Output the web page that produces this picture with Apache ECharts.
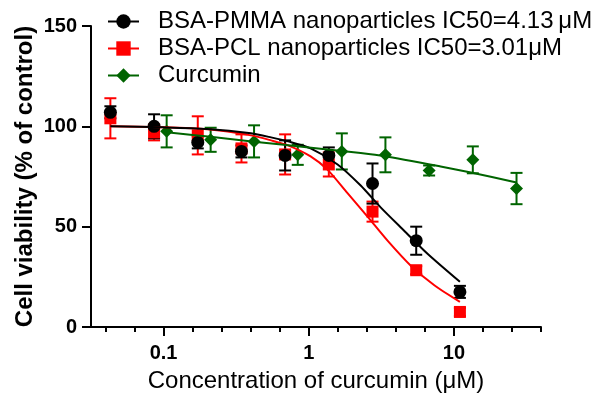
<!DOCTYPE html>
<html>
<head>
<meta charset="utf-8">
<script src="https://cdn.jsdelivr.net/npm/echarts@6/dist/echarts.min.js"></script>
<style>
  html, body { margin: 0; padding: 0; background: #fff; }
  #chart { width: 607px; height: 398px; }
</style>
</head>
<body>
<div id="chart"></div>
<script>
// doses (uM) and viability (% of control)
var nanoConc = [0.043, 0.086, 0.172, 0.344, 0.6875, 1.375, 2.75, 5.5, 11];
var pmmaMean = [107, 100, 92, 87.5, 85.5, 85.5, 71.5, 43, 17.5];
var pmmaSd = [3, 6, 3, 3, 7.5, 4, 10, 7, 3];
var pclMean = [104, 97, 95.5, 89, 86, 81, 57.5, 28.3, 7.5];
var pclSd = [10, 4, 9.5, 7, 10, 6, 5, 2, 2];

var curcConc = [0.105, 0.211, 0.42, 0.84, 1.69, 3.375, 6.75, 13.5, 27];
var curcMean = [97.5, 93.3, 92.5, 85.8, 87.5, 85.8, 78, 83.3, 69];
var curcSd = [8, 6, 8, 5, 9, 8.7, 2.5, 6.7, 7.8];

// fitted curves
var pmmaFitConc = [0.043, 0.1, 0.2, 0.4, 0.55, 0.72, 1.03, 1.58, 2.28, 3.14, 4.54, 6.58, 11];
var pmmaFitVal = [100, 99.5, 98.7, 96.5, 94.5, 92.5, 89, 81, 70.5, 59.5, 48, 36.5, 22.5];
var pclFitConc = [0.043, 0.1, 0.2, 0.4, 0.55, 0.72, 1.03, 1.35, 1.85, 2.54, 3.49, 5.05, 7.33, 11];
var pclFitVal = [100, 99.5, 98.5, 95.5, 93, 90.5, 85, 78.3, 66.7, 55, 43, 30.5, 20.8, 12.5];
var curcFitConc = [0.105, 0.21, 0.42, 1, 2.28, 3.3, 8.1, 13.1, 27];
var curcFitVal = [97, 94.8, 92.3, 89.5, 86.7, 85.2, 80, 77, 72];

var seriesNames = ['BSA-PMMA nanoparticles IC50=4.13\u2009\u03bcM', 'BSA-PCL nanoparticles IC50=3.01\u03bcM', 'Curcumin'];

var majorTicks = [0.1, 1, 10];
var minorTickExp = [-1.4, -1.2, -1.0, -0.8, -0.6, -0.4, -0.2, 0, 0.2, 0.4, 0.6, 0.8, 1.0, 1.2, 1.4, 1.6];
var yTicks = [0, 50, 100, 150];

var FONT = 'Liberation Sans, Arial, Helvetica, sans-serif';

function pts(conc, vals) {
    return conc.map(function (c, i) { return [Math.log10(c), vals[i]]; });
}
function errs(conc, mean, sd) {
    return conc.map(function (c, i) { return [Math.log10(c), mean[i] - sd[i], mean[i] + sd[i]]; });
}

function errorBars(name, color, data) {
    return {
        name: name + ' sd',
        type: 'custom',
        data: data,
        encode: { x: 0, y: [1, 2] },
        silent: true,
        renderItem: function (params, api) {
            var x = api.value(0);
            var lo = api.coord([x, api.value(1)]);
            var hi = api.coord([x, api.value(2)]);
            var w = 6;
            var st = { stroke: color, lineWidth: 2 };
            return {
                type: 'group',
                children: [
                    { type: 'line', shape: { x1: hi[0], y1: hi[1], x2: lo[0], y2: lo[1] }, style: st },
                    { type: 'line', shape: { x1: hi[0] - w, y1: hi[1], x2: hi[0] + w, y2: hi[1] }, style: st },
                    { type: 'line', shape: { x1: lo[0] - w, y1: lo[1], x2: lo[0] + w, y2: lo[1] }, style: st }
                ]
            };
        }
    };
}

function fitLine(name, color, symbol, data) {
    return {
        name: name,
        type: 'line',
        data: data,
        symbol: symbol,
        showSymbol: false,
        smooth: 0.25,
        color: color,
        lineStyle: { color: color, width: 2 },
        itemStyle: { color: color },
        silent: true
    };
}

function points(name, color, symbol, size, data) {
    return {
        name: name + ' pts',
        type: 'scatter',
        data: data,
        symbol: symbol,
        symbolSize: size,
        itemStyle: { color: color, opacity: 1 },
        silent: true
    };
}

var RED = '#ff0000', BLACK = '#000000', GREEN = '#006400';

var chart = echarts.init(document.getElementById('chart'));
chart.setOption({
    animation: false,
    textStyle: { fontFamily: FONT, color: '#000' },
    grid: { left: 91, right: 66, top: 26, bottom: 71, containLabel: false, outerBoundsMode: 'none' },
    legend: {
        data: [seriesNames[0], seriesNames[1], seriesNames[2]],
        orient: 'vertical',
        left: 107,
        top: 9,
        padding: 0,
        itemWidth: 31,
        itemHeight: 18,
        itemGap: 2,
        textStyle: { fontSize: 24, color: '#000', fontFamily: FONT, lineHeight: 25, padding: [0, 0, 0, 14] },
        selectedMode: false
    },
    xAxis: [{
        type: 'value',
        min: -1.5,
        max: 1.6,
        position: 'bottom',
        splitLine: { show: false },
        axisLine: { show: true, onZero: false, lineStyle: { color: '#000', width: 2 } },
        axisTick: { show: true, length: 9, lineStyle: { color: '#000', width: 2 },
            customValues: majorTicks.map(Math.log10) },
        axisLabel: {
            customValues: majorTicks.map(Math.log10),
            margin: 16,
            fontSize: 20,
            fontWeight: 'bold',
            color: '#000',
            formatter: function (v) {
                for (var i = 0; i < majorTicks.length; i++) {
                    if (Math.abs(Math.log10(majorTicks[i]) - v) < 1e-9) return String(majorTicks[i]);
                }
                return '';
            }
        },
        name: 'Concentration of curcumin (\u03bcM)',
        nameLocation: 'middle',
        nameGap: 42,
        nameMoveOverlap: false,
        nameTextStyle: { fontSize: 24, color: '#000' }
    }, {
        type: 'value',
        min: -1.5,
        max: 1.6,
        position: 'bottom',
        splitLine: { show: false },
        axisLine: { show: false, onZero: false },
        axisTick: { show: true, length: 5, lineStyle: { color: '#000', width: 2 },
            customValues: minorTickExp },
        axisLabel: { show: false }
    }],
    yAxis: {
        type: 'value',
        min: yTicks[0],
        max: yTicks[yTicks.length - 1],
        interval: 50,
        position: 'left',
        splitLine: { show: false },
        axisLine: { show: true, onZero: false, lineStyle: { color: '#000', width: 2 } },
        axisTick: { show: true, length: 9, lineStyle: { color: '#000', width: 2 } },
        axisLabel: { margin: 14, fontSize: 20, fontWeight: 'bold', color: '#000' },
        name: 'Cell viability (% of control)',
        nameLocation: 'middle',
        nameRotate: 90,
        nameGap: 54,
        nameMoveOverlap: false,
        nameTextStyle: { fontSize: 24, fontWeight: 'bold', color: '#000' }
    },
    series: [
        fitLine(seriesNames[1], RED, 'rect', pts(pclFitConc, pclFitVal)),
        errorBars('pcl', RED, errs(nanoConc, pclMean, pclSd)),
        points('pcl', RED, 'rect', 12, pts(nanoConc, pclMean)),
        fitLine(seriesNames[0], BLACK, 'circle', pts(pmmaFitConc, pmmaFitVal)),
        errorBars('pmma', BLACK, errs(nanoConc, pmmaMean, pmmaSd)),
        points('pmma', BLACK, 'circle', 13, pts(nanoConc, pmmaMean)),
        fitLine(seriesNames[2], GREEN, 'diamond', pts(curcFitConc, curcFitVal)),
        errorBars('curc', GREEN, errs(curcConc, curcMean, curcSd)),
        points('curc', GREEN, 'diamond', 13, pts(curcConc, curcMean))
    ]
});
</script>
</body>
</html>
